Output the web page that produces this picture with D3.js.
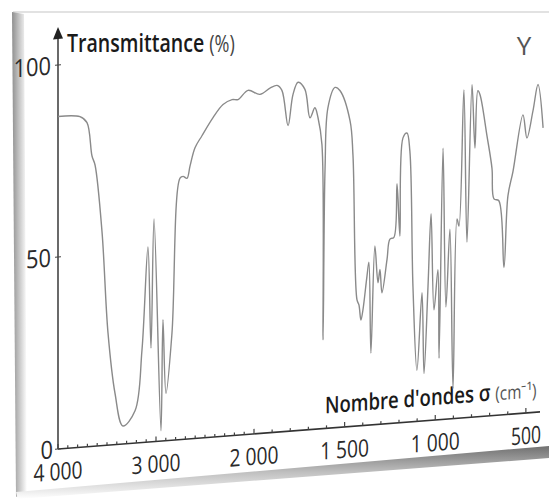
<!DOCTYPE html>
<html>
<head>
<meta charset="utf-8">
<script src="https://cdn.jsdelivr.net/npm/d3@7"></script>
<style>
  body { margin: 0; background: #fff; }
  svg { display: block; }
</style>
</head>
<body>
<div id="chart"></div>
<script>
// Spectrum: wavenumber (cm-1) and transmittance (%)
const wavenumbers = [4000, 3776, 3704, 3653, 3622, 3551, 3490, 3418, 3337, 3214,
  3143, 3082, 3051, 3020, 2949, 2929, 2898, 2837, 2755, 2724,
  2684, 2653, 2602, 2531, 2418, 2316, 2224, 2163, 2061, 1967,
  1912, 1873, 1846, 1812, 1785, 1757, 1719, 1691, 1664, 1647,
  1625, 1619, 1608, 1592, 1553, 1526, 1470, 1454, 1432, 1421,
  1410, 1399, 1377, 1366, 1355, 1333, 1316, 1305, 1294, 1266,
  1250, 1228, 1211, 1195, 1178, 1156, 1140, 1123, 1101, 1073,
  1062, 1040, 1023, 1007, 985, 979, 957, 941, 919, 902,
  880, 869, 842, 825, 797, 781, 765, 753, 715, 687,
  676, 649, 621, 599, 571, 516, 494, 461, 433, 405];
const transmittance = [86.6, 86.1, 84.4, 75.6, 73.2, 55.7, 29.3, 13.3, 4.7, 8.4,
  24.1, 50.8, 24.4, 58.0, 2.7, 31.6, 12.3, 27.9, 68.1, 68.5,
  67.9, 71.0, 75.7, 78.7, 83.2, 86.4, 87.5, 87.4, 89.6, 88.3,
  89.7, 90.3, 88.9, 79.6, 87.6, 90.7, 88.7, 81.2, 83.7, 81.1,
  73.9, 23.1, 67.7, 83.5, 88.6, 87.7, 79.6, 70.6, 32.9, 31.5,
  27.5, 30.1, 38.7, 42.4, 18.7, 46.5, 36.9, 40.3, 34.2, 42.8,
  48.0, 48.4, 62.3, 48.6, 74.1, 75.3, 70.5, 35.2, 13.3, 33.4,
  12.3, 34.9, 53.8, 28.7, 39.1, 16.0, 70.6, 29.2, 49.4, 7.8,
  51.9, 50.0, 85.4, 45.7, 86.6, 70.0, 84.9, 83.8, 73.1, 64.4,
  56.4, 55.8, 38.3, 56.9, 63.2, 77.7, 71.6, 78.5, 85.3, 73.9];

const xTickLabels = [4000, 3000, 2000, 1500, 1000, 500];
const xTickText = ["4 000", "3 000", "2 000", "1 500", "1 000", "500"];
const yTickLabels = [0, 50, 100];

const data = wavenumbers.map((w, i) => ({w: w, t: transmittance[i]}));

const width = 549;
const height = 499;
const origin = {x: 58, y: 449};

const svg = d3.select("#chart")
  .append("svg")
    .attr("width", width)
    .attr("height", height);

// squeeze a text horizontally so it takes the narrow width of the printed font
const fitText = (text, x, y, targetWidth, anchor) => {
  const w = text.node().getComputedTextLength();
  const sx = Math.min(1, targetWidth / w);
  const shift = anchor === "middle" ? -w * sx / 2 : anchor === "end" ? -w * sx : 0;
  text.attr("transform", `translate(${x + shift}, ${y}) scale(${sx}, 1)`);
};

/* page look: left and bottom shadows of the photographed sheet */
const defs = svg.append("defs");
const leftGrad = defs.append("linearGradient").attr("id", "leftShade")
  .attr("x1", 0).attr("x2", 1).attr("y1", 0).attr("y2", 0);
leftGrad.append("stop").attr("offset", 0).attr("stop-color", "#8f8f8f");
leftGrad.append("stop").attr("offset", 0.5).attr("stop-color", "#c8c8c8");
leftGrad.append("stop").attr("offset", 1).attr("stop-color", "#ffffff");
const bottomGrad = defs.append("linearGradient").attr("id", "bottomShade")
  .attr("x1", 0).attr("x2", 0).attr("y1", 0).attr("y2", 1);
bottomGrad.append("stop").attr("offset", 0).attr("stop-color", "#707070");
bottomGrad.append("stop").attr("offset", 0.5).attr("stop-color", "#c0c0c0");
bottomGrad.append("stop").attr("offset", 1).attr("stop-color", "#ffffff");

svg.append("line")
  .attr("x1", 13).attr("y1", 12).attr("x2", width).attr("y2", 12)
  .attr("stroke", "#d8d8d8").attr("stroke-width", 1.5);
svg.append("path")
  .attr("d", "M12,12 L24,14 L27,492 L16,497 Z")
  .attr("fill", "url(#leftShade)");
svg.append("path")
  .attr("d", `M16,492 L${width},446 L${width},458 L18,499 Z`)
  .attr("fill", "url(#bottomShade)");

/* scales: two-speed wavenumber axis like the paper spectrum */
const xScale = d3.scaleLinear()
  .domain([4000, 2000, 400])
  .range([0, 196, 486]);
const yScale = d3.scaleLinear()
  .domain([0, 100])
  .range([0, -384]);

// the sheet is photographed a bit tilted
const plot = svg.append("g")
  .attr("transform", `translate(${origin.x}, ${origin.y}) skewY(-4.4)`);

/* x axis */
plot.append("line")
  .attr("x1", 0).attr("y1", 0).attr("x2", 482).attr("y2", 0)
  .attr("stroke", "#333").attr("stroke-width", 1.6);
plot.selectAll(".minor-tick")
  .data(d3.range(500, 4001, 100))
  .join("line")
    .attr("class", "minor-tick")
    .attr("x1", d => xScale(d)).attr("x2", d => xScale(d))
    .attr("y1", 0)
    .attr("y2", d => xTickLabels.includes(d) ? -5 : -3)
    .attr("stroke", "#444").attr("stroke-width", 1.2);
plot.selectAll(".x-label")
  .data(xTickLabels)
  .join("text")
    .attr("class", "x-label")
    .attr("font-family", "'Open Sans', sans-serif")
    .attr("font-size", 24)
    .attr("fill", "#2a2a2a")
    .text((d, i) => xTickText[i])
    .each(function(d, i) {
      fitText(d3.select(this), xScale(d), 31, xTickText[i].length === 3 ? 30 : 49, "middle");
    });

const xTitle = plot.append("text")
  .attr("font-family", "'Open Sans', sans-serif");
xTitle.append("tspan")
  .attr("font-size", 23).attr("font-weight", 600)
  .attr("fill", "#1a1a1a")
  .text("Nombre d'ondes σ ");
xTitle.append("tspan")
  .attr("font-size", 19)
  .attr("fill", "#555")
  .text("(cm⁻¹)");
fitText(xTitle, 267, -15, 211, "start");

/* y axis with arrow */
plot.append("line")
  .attr("x1", 0).attr("y1", 0).attr("x2", 0).attr("y2", -414)
  .attr("stroke", "#444").attr("stroke-width", 1.6);
plot.append("path")
  .attr("d", "M0,-422 L-5,-410 L5,-410 Z")
  .attr("fill", "#222");
plot.selectAll(".y-tick")
  .data(yTickLabels)
  .join("line")
    .attr("class", "y-tick")
    .attr("x1", -3).attr("x2", 3)
    .attr("y1", d => yScale(d)).attr("y2", d => yScale(d))
    .attr("stroke", "#444").attr("stroke-width", 1.2);
plot.selectAll(".y-label")
  .data(yTickLabels)
  .join("text")
    .attr("class", "y-label")
    .attr("font-family", "'Open Sans', sans-serif")
    .attr("font-size", 25)
    .attr("fill", "#2a2a2a")
    .text(d => d)
    .each(function(d) {
      fitText(d3.select(this), d === 0 ? -5 : -7, yScale(d) + 9, String(d).length * 12.5, "end");
    });

/* spectrum */
const lineGenerator = d3.line()
  .x(d => xScale(d.w))
  .y(d => yScale(d.t))
  .curve(d3.curveCatmullRom.alpha(0.5));
plot.append("path")
  .attr("d", lineGenerator(data))
  .attr("fill", "none")
  .attr("stroke", "#8a8a8a")
  .attr("stroke-width", 1.4)
  .attr("stroke-linejoin", "round");

/* titles (not tilted) */
const yTitle = svg.append("text")
  .attr("font-family", "'Open Sans', sans-serif");
yTitle.append("tspan")
  .attr("font-size", 26).attr("font-weight", 600)
  .attr("fill", "#1a1a1a")
  .text("Transmittance ");
yTitle.append("tspan")
  .attr("font-size", 24)
  .attr("fill", "#444")
  .text("(%)");
fitText(yTitle, 67, 52, 168, "start");

svg.append("text")
  .attr("x", 524).attr("y", 55)
  .attr("text-anchor", "middle")
  .attr("font-family", "'Open Sans', sans-serif")
  .attr("font-size", 26)
  .attr("fill", "#555")
  .text("Y");
</script>
</body>
</html>
